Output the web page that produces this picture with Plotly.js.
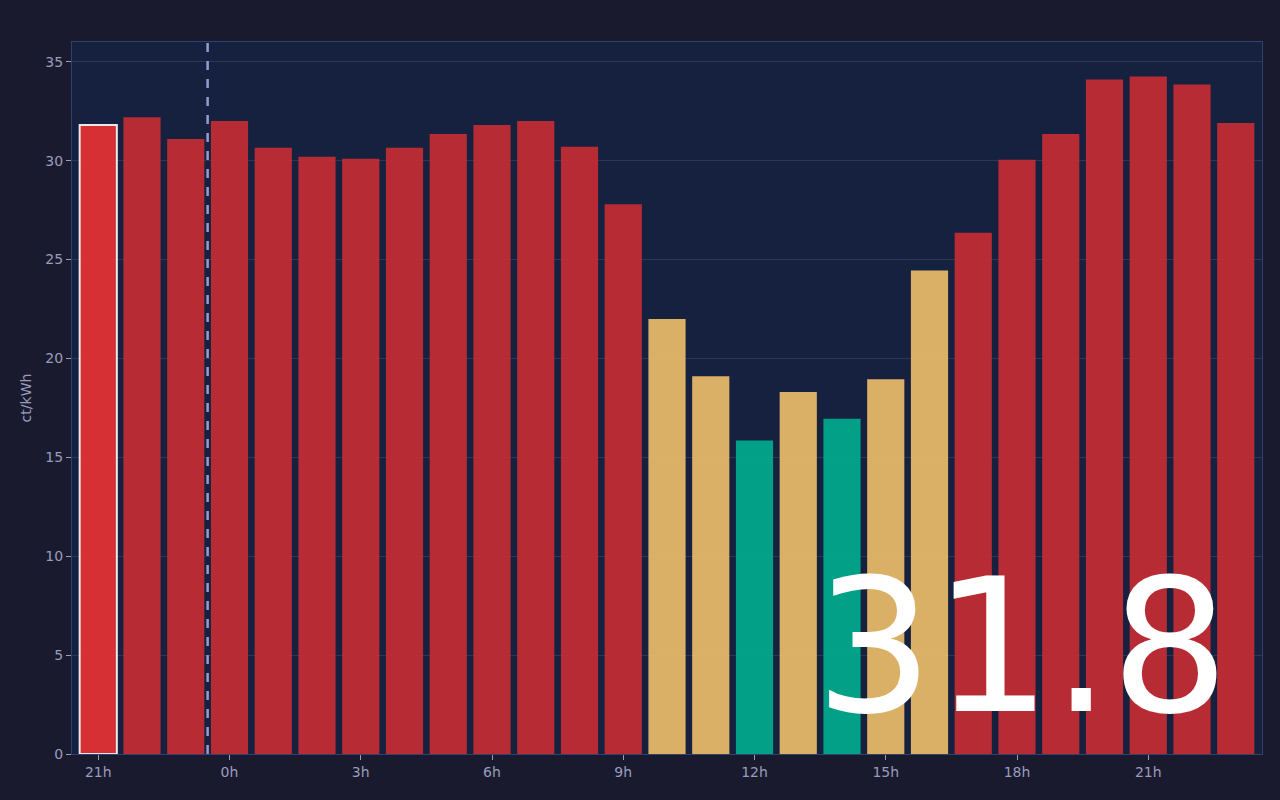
<html>
<head>
<script src="https://cdn.plot.ly/plotly-3.0.1.min.js"></script>
<style>
  body { margin: 0; background: #1a1a2e; }
  #chart { width: 1280px; height: 800px; }
</style>
</head>
<body>
<div id="chart"></div>
<script>
  // hourly prices, 21h yesterday .. 23h today
  const hours = [21, 22, 23, 0, 1, 2, 3, 4, 5, 6, 7, 8, 9, 10, 11, 12, 13, 14, 15, 16, 17, 18, 19, 20, 21, 22, 23];
  const prices = [31.8, 32.2, 31.1, 32.0, 30.65, 30.2, 30.1, 30.65, 31.35, 31.8, 32.0, 30.7, 27.8,
                  22.0, 19.1, 15.85, 18.3, 16.95, 18.95, 24.45, 26.35, 30.05, 31.35, 34.1, 34.25, 33.85, 31.9];
  const levels = ['high', 'high', 'high', 'high', 'high', 'high', 'high', 'high', 'high', 'high', 'high', 'high', 'high',
                  'mid', 'mid', 'low', 'mid', 'low', 'mid', 'mid', 'high', 'high', 'high', 'high', 'high', 'high', 'high'];
  const tickIdx = [0, 3, 6, 9, 12, 15, 18, 21, 24];
  const tickText = ['21h', '0h', '3h', '6h', '9h', '12h', '15h', '18h', '21h'];
  const currentIdx = 0;
  const nowPos = 2.5;

  const levelColor = { high: '#c92c33', mid: '#efc06c', low: '#00ae8e' };
  const idx = hours.map((h, i) => i);

  const colors = levels.map((l, i) => i === currentIdx ? '#ec3233' : levelColor[l]);
  const lineW = levels.map((l, i) => i === currentIdx ? 2 : 0);

  const trace = {
    type: 'bar',
    x: idx,
    y: prices,
    marker: {
      color: colors,
      opacity: 0.9,
      line: { color: '#ffffff', width: lineW }
    },
    hovertemplate: '%{y:.1f} ct/kWh<extra></extra>'
  };

  const layout = {
    width: 1280,
    height: 800,
    paper_bgcolor: '#1a1a2e',
    plot_bgcolor: '#16213f',
    margin: { l: 72, r: 18, t: 42, b: 46 },
    font: { family: 'DejaVu Sans, sans-serif', color: '#9a9cbc', size: 14 },
    bargap: 0.15,
    showlegend: false,
    xaxis: {
      range: [-0.6, 26.6],
      tickvals: tickIdx,
      ticktext: tickText,
      ticks: 'outside',
      ticklen: 5,
      tickcolor: '#9a9cbc',
      showgrid: false,
      showline: true,
      mirror: true,
      linecolor: '#31416b',
      zeroline: false
    },
    yaxis: {
      range: [0, 36],
      dtick: 5,
      ticks: 'outside',
      ticklen: 5,
      tickcolor: '#9a9cbc',
      gridcolor: '#2b3659',
      showline: true,
      mirror: true,
      linecolor: '#31416b',
      zeroline: false,
      title: { text: 'ct/kWh', font: { size: 14, color: '#9a9cbc' }, standoff: 10 }
    },
    shapes: [{
      type: 'line',
      xref: 'x', yref: 'paper',
      x0: nowPos, x1: nowPos, y0: 0, y1: 1,
      line: { color: '#8e9ed0', width: 2.5, dash: 'dash' }
    }],
    annotations: [{
      xref: 'paper', yref: 'paper',
      x: 0.798, y: 0.151,
      xanchor: 'center', yanchor: 'middle',
      text: prices[currentIdx].toFixed(1),
      showarrow: false,
      font: { size: 186, color: '#ffffff', family: 'DejaVu Sans, sans-serif' }
    }]
  };

  Plotly.newPlot('chart', [trace], layout, { displayModeBar: false });
</script>
</body>
</html>
